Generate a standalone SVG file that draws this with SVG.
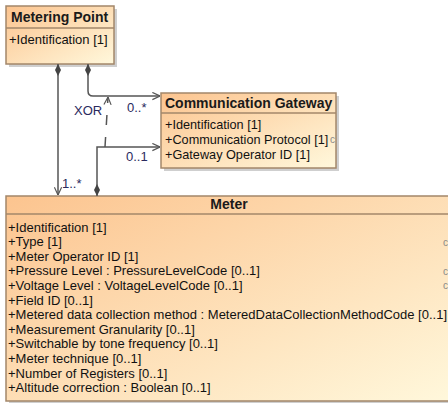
<svg xmlns="http://www.w3.org/2000/svg" width="448" height="403" viewBox="0 0 448 403">
<defs>
  <linearGradient id="fill" x1="0" y1="0" x2="1" y2="1">
    <stop offset="0" stop-color="#FCC48F"/>
    <stop offset="1" stop-color="#FFF8DC"/>
  </linearGradient>
  <marker id="diamond" viewBox="0 0 12 6" refX="0" refY="3" markerWidth="12" markerHeight="6" markerUnits="userSpaceOnUse" orient="auto">
    <path d="M0,3 L6,0 L12,3 L6,6 Z" fill="#444"/>
  </marker>
  <marker id="arrow" viewBox="0 0 10 10" refX="9.5" refY="5" markerWidth="9" markerHeight="9" markerUnits="userSpaceOnUse" orient="auto">
    <path d="M1,1 L9.5,5 L1,9" fill="none" stroke="#555" stroke-width="1.3"/>
  </marker>
</defs>
<style>
  .box { fill: url(#fill); stroke: #A3876A; stroke-width: 1.5; }
  .shadow { fill: #CFCFCF; }
  .sep { stroke: #A3876A; stroke-width: 1.5; }
  .title { font-family: "Liberation Sans", Arial, sans-serif; font-size: 14px; font-weight: bold; fill: #1a1a1a; }
  .attr { font-family: "Liberation Sans", Arial, sans-serif; font-size: 13px; fill: #111; }
  .cg { font-size: 12.7px; }
  .clip { font-family: "Liberation Sans", Arial, sans-serif; font-size: 10px; fill: #8a8a8a; }
  .lbl { font-family: "Liberation Sans", Arial, sans-serif; font-size: 13px; fill: #2a2a5e; }
  .conn { fill: none; stroke: #555; stroke-width: 1.5; }
  .dash { stroke-dasharray: 10 12; }
</style>

<g id="metering-point">
  <rect class="shadow" x="9" y="9" width="108" height="58"/>
  <rect class="box" x="6" y="6" width="108" height="58"/>
  <line class="sep" x1="6" y1="28" x2="114" y2="28"/>
  <text class="title" x="11" y="22">Metering Point</text>
  <text class="attr" x="9" y="44">+Identification [1]</text>
</g>

<g id="communication-gateway">
  <rect class="shadow" x="164" y="96" width="175" height="75"/>
  <rect class="box" x="161" y="93" width="175" height="75"/>
  <line class="sep" x1="161" y1="113" x2="336" y2="113"/>
  <text class="title" x="165" y="108">Communication Gateway</text>
  <text class="attr cg" x="165" y="128.5">+Identification [1]</text>
  <text class="attr cg" x="165" y="143.5">+Communication Protocol [1]</text>
  <text class="clip" x="330" y="143">c</text>
  <text class="attr cg" x="165" y="158.5">+Gateway Operator ID [1]</text>
</g>

<g id="meter">
  <rect class="shadow" x="9" y="199" width="450" height="205"/>
  <rect class="box" x="6" y="196" width="450" height="205"/>
  <line class="sep" x1="6" y1="214" x2="456" y2="214"/>
  <text class="title" x="229" y="209" text-anchor="middle">Meter</text>
  <text class="attr" x="8" y="231.5">+Identification [1]</text>
  <text class="attr" x="8" y="246.1">+Type [1]</text>
  <text class="attr" x="8" y="260.7">+Meter Operator ID [1]</text>
  <text class="attr" x="8" y="275.3">+Pressure Level : PressureLevelCode [0..1]</text>
  <text class="attr" x="8" y="289.9">+Voltage Level : VoltageLevelCode [0..1]</text>
  <text class="attr" x="8" y="304.5">+Field ID [0..1]</text>
  <text class="attr" x="8" y="319.1">+Metered data collection method : MeteredDataCollectionMethodCode [0..1]</text>
  <text class="attr" x="8" y="333.7">+Measurement Granularity [0..1]</text>
  <text class="attr" x="8" y="348.3">+Switchable by tone frequency [0..1]</text>
  <text class="attr" x="8" y="362.9">+Meter technique [0..1]</text>
  <text class="attr" x="8" y="377.5">+Number of Registers [0..1]</text>
  <text class="attr" x="8" y="392.1">+Altitude correction : Boolean [0..1]</text>
  <text class="clip" x="443" y="245.5">c</text>
  <text class="clip" x="443" y="274.5">c</text>
  <text class="clip" x="443" y="289">c</text>
</g>

<g id="connectors">
  <path class="conn" d="M58,64 L58,195" marker-start="url(#diamond)" marker-end="url(#arrow)"/>
  <path class="conn" d="M88,64 L88,91 Q88,96 93,96 L160,96" marker-start="url(#diamond)" marker-end="url(#arrow)"/>
  <path class="conn" d="M97,196 L97,147 L160,147" marker-start="url(#diamond)" marker-end="url(#arrow)"/>
  <path class="conn dash" d="M105,147 L108,97" marker-end="url(#arrow)"/>
  <text class="lbl" x="74" y="115">XOR</text>
  <text class="lbl" x="127" y="112">0..*</text>
  <text class="lbl" x="126" y="161">0..1</text>
  <text class="lbl" x="62" y="188">1..*</text>
</g>
</svg>
